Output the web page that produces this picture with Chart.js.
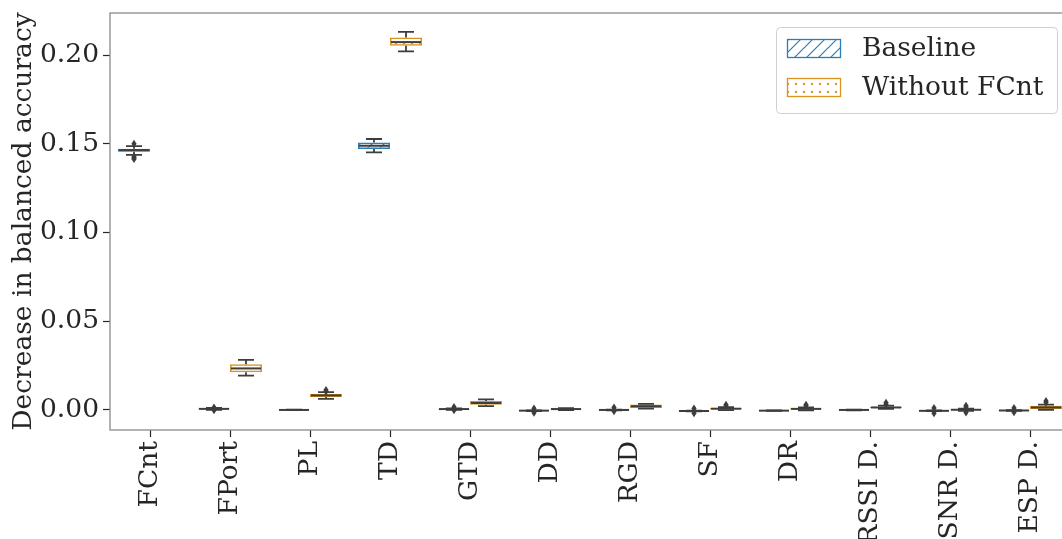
<!DOCTYPE html>
<html>
<head>
<meta charset="utf-8">
<script src="https://cdn.jsdelivr.net/npm/chart.js@4/dist/chart.umd.min.js"></script>
<style>
  html, body { margin: 0; padding: 0; background: #fff; overflow: hidden; }
  #wrap { width: 1062px; height: 539px; overflow: hidden; }
  canvas { display: block; }
</style>
</head>
<body>
<div id="wrap"><canvas id="c" width="1072" height="539"></canvas></div>
<script>
// Feature names on the x axis
const categories = ['FCnt', 'FPort', 'PL', 'TD', 'GTD', 'DD', 'RGD', 'SF', 'DR', 'RSSI D.', 'SNR D.', 'ESP D.'];
const seriesNames = ['Baseline', 'Without FCnt'];
const yTicks = [0.00, 0.05, 0.10, 0.15, 0.20];

// Baseline: quartiles, whiskers and outliers per feature
const baseQ1  = [0.1455, 0.0004, 0.0000, 0.1471, 0.0003, -0.0005, -0.0001, -0.0007, -0.0005, -0.0001, -0.0006, -0.0004];
const baseMed = [0.1464, 0.0006, 0.0000, 0.1489, 0.0005, -0.0004,  0.0000, -0.0006, -0.0004,  0.0000, -0.0005, -0.0003];
const baseQ3  = [0.1472, 0.0008, 0.0001, 0.1507, 0.0007, -0.0003,  0.0001, -0.0005, -0.0003,  0.0001, -0.0004, -0.0002];
const baseLo  = [0.1437, 0.0001, 0.0000, 0.1452, 0.0001, -0.0006, -0.0002, -0.0008, -0.0005, -0.0002, -0.0007, -0.0005];
const baseHi  = [0.1487, 0.0011, 0.0001, 0.1527, 0.0009, -0.0002,  0.0002, -0.0004, -0.0003,  0.0002, -0.0003, -0.0001];
const baseOut = [[0.1500, 0.1427, 0.1420, 0.1414], [0.0014, -0.0001], [], [], [0.0016, -0.0001],
                 [0.0008, -0.0016], [0.0014, -0.0008], [0.0008, -0.0018], [], [], [0.0011, -0.0018], [0.0011, -0.0013]];

// Without FCnt: no values for FCnt itself
const woQ1  = [null, 0.0212, 0.0073, 0.2052, 0.0029,  0.0002, 0.0011,  0.0003,  0.0002, 0.0010, -0.0002, 0.0005];
const woMed = [null, 0.0234, 0.0082, 0.2073, 0.0039,  0.0005, 0.0021,  0.0007,  0.0006, 0.0014,  0.0001, 0.0014];
const woQ3  = [null, 0.0258, 0.0090, 0.2099, 0.0050,  0.0008, 0.0031,  0.0011,  0.0010, 0.0018,  0.0004, 0.0024];
const woLo  = [null, 0.0193, 0.0062, 0.2021, 0.0021, -0.0001, 0.0008, -0.0001, -0.0002, 0.0006, -0.0005, 0.0000];
const woHi  = [null, 0.0282, 0.0100, 0.2131, 0.0060,  0.0010, 0.0034,  0.0016,  0.0014, 0.0024,  0.0007, 0.0030];
const woOut = [[], [], [0.0112, 0.0104], [], [], [], [], [0.0030, 0.0022], [0.0030, 0.0024],
               [0.0040, 0.0032], [0.0023, 0.0016, -0.0015], [0.0050, 0.0042]];

const BLUE = '#2a7db5';
const ORANGE = '#d9921f';
const INK = '#3d3d3d';
const TEXT = '#262626';
const FONT = '"DejaVu Serif", serif';
const FSIZE = 26.5;

// Hatch fills: diagonal lines and dots
function makeLines(color) {
  const n = 12;
  const p = document.createElement('canvas');
  p.width = n; p.height = n;
  const g = p.getContext('2d');
  g.strokeStyle = color; g.lineWidth = 1.2;
  g.beginPath();
  g.moveTo(-1, n + 1); g.lineTo(n + 1, -1);
  g.moveTo(-1, 1); g.lineTo(1, -1);
  g.moveTo(n - 1, n + 1); g.lineTo(n + 1, n - 1);
  g.stroke();
  return g.createPattern(p, 'repeat');
}
function makeDots(color) {
  const p = document.createElement('canvas');
  p.width = 8; p.height = 8;
  const g = p.getContext('2d');
  g.fillStyle = color;
  g.beginPath(); g.arc(4, 4, 1.15, 0, Math.PI * 2); g.fill();
  return g.createPattern(p, 'repeat');
}
const fills = [makeLines(BLUE), makeDots(ORANGE)];
const edges = [BLUE, ORANGE];

const stats = [
  { q1: baseQ1, med: baseMed, q3: baseQ3, lo: baseLo, hi: baseHi, out: baseOut },
  { q1: woQ1, med: woMed, q3: woQ3, lo: woLo, hi: woHi, out: woOut }
];

function boxData(s) {
  return s.q1.map((v, i) => (v === null ? null : [v, s.q3[i]]));
}

// Whiskers, medians and outliers drawn on top of the box bars
const boxPlugin = {
  id: 'boxParts',
  afterDatasetsDraw(chart) {
    const ctx = chart.ctx;
    const y = chart.scales.y;
    ctx.save();
    ctx.beginPath();
    ctx.rect(chart.chartArea.left, chart.chartArea.top,
             chart.chartArea.right - chart.chartArea.left, chart.chartArea.bottom - chart.chartArea.top);
    ctx.clip();
    stats.forEach((s, d) => {
      const meta = chart.getDatasetMeta(d);
      meta.data.forEach((el, i) => {
        if (s.q1[i] === null) return;
        const x = el.x, w = el.width;
        ctx.strokeStyle = INK;
        ctx.lineWidth = 1.8;
        ctx.lineCap = 'butt';
        const yq1 = y.getPixelForValue(s.q1[i]);
        const yq3 = y.getPixelForValue(s.q3[i]);
        const ylo = y.getPixelForValue(s.lo[i]);
        const yhi = y.getPixelForValue(s.hi[i]);
        const ym = y.getPixelForValue(s.med[i]);
        ctx.beginPath();
        ctx.moveTo(x, yq3); ctx.lineTo(x, yhi);
        ctx.moveTo(x - w / 4, yhi); ctx.lineTo(x + w / 4, yhi);
        ctx.moveTo(x, yq1); ctx.lineTo(x, ylo);
        ctx.moveTo(x - w / 4, ylo); ctx.lineTo(x + w / 4, ylo);
        ctx.stroke();
        ctx.lineWidth = 2;
        ctx.beginPath();
        ctx.moveTo(x - w / 2 + 1, ym); ctx.lineTo(x + w / 2 - 1, ym);
        ctx.stroke();
        ctx.fillStyle = INK;
        s.out[i].forEach(v => {
          const py = y.getPixelForValue(v);
          ctx.beginPath();
          ctx.moveTo(x, py - 4); ctx.lineTo(x + 2.6, py);
          ctx.lineTo(x, py + 4); ctx.lineTo(x - 2.6, py);
          ctx.closePath(); ctx.fill();
        });
      });
    });
    ctx.restore();
  },
  afterDraw(chart) {
    const ctx = chart.ctx;
    const a = chart.chartArea;
    ctx.save();
    // Axes frame
    ctx.strokeStyle = '#8a8a8a';
    ctx.lineWidth = 1.3;
    ctx.strokeRect(a.left, a.top, a.right - a.left, a.bottom - a.top);
    // Legend
    const lx = 776, ly = 27, lw = 281, lh = 86;
    ctx.fillStyle = 'rgba(255,255,255,0.85)';
    ctx.strokeStyle = '#d0d0d0';
    ctx.lineWidth = 1;
    ctx.beginPath();
    ctx.roundRect(lx + 0.5, ly + 0.5, lw, lh, 4);
    ctx.fill(); ctx.stroke();
    ctx.font = FSIZE + 'px ' + FONT;
    ctx.textBaseline = 'middle';
    ctx.textAlign = 'left';
    seriesNames.forEach((name, k) => {
      const ry = 39 + k * 39;
      ctx.fillStyle = '#fff';
      ctx.fillRect(787, ry, 54, 19);
      ctx.fillStyle = fills[k];
      ctx.fillRect(787, ry, 54, 19);
      ctx.strokeStyle = edges[k];
      ctx.lineWidth = 1.3;
      ctx.strokeRect(787.5, ry + 0.5, 53, 18);
      ctx.fillStyle = TEXT;
      ctx.fillText(name, 862, ry + 10);
    });
    ctx.restore();
  }
};

new Chart(document.getElementById('c'), {
  type: 'bar',
  data: {
    labels: categories,
    datasets: stats.map((s, d) => ({
      label: seriesNames[d],
      data: boxData(s),
      backgroundColor: fills[d],
      borderColor: edges[d],
      borderWidth: 1.5,
      borderSkipped: false,
      categoryPercentage: 0.8,
      barPercentage: 1.0
    }))
  },
  options: {
    responsive: false,
    animation: false,
    devicePixelRatio: 1,
    layout: { padding: { left: 0, right: 2, top: 13, bottom: 0 } },
    plugins: { legend: { display: false }, tooltip: { enabled: false } },
    scales: {
      x: {
        offset: true,
        grid: { display: true, offset: false, drawOnChartArea: false, drawTicks: true, tickLength: 7, tickColor: TEXT, tickWidth: 1.2 },
        border: { display: false },
        ticks: {
          autoSkip: false, minRotation: 90, maxRotation: 90, padding: 4,
          color: TEXT, font: { family: FONT, size: FSIZE }
        },
        afterFit(scale) { scale.height = 109; scale.paddingLeft = 0; scale.paddingRight = 0; }
      },
      y: {
        min: -0.0113,
        max: 0.2237,
        grid: { display: true, drawOnChartArea: false, drawTicks: true, tickLength: 7, tickColor: TEXT, tickWidth: 1.2 },
        border: { display: false },
        ticks: {
          padding: 4, color: TEXT, font: { family: FONT, size: FSIZE },
          callback: v => v.toFixed(2)
        },
        afterBuildTicks(scale) { scale.ticks = yTicks.map(v => ({ value: v })); },
        afterFit(scale) { scale.width = 110; scale.paddingTop = 0; scale.paddingBottom = 0; },
        title: {
          display: true, text: 'Decrease in balanced accuracy', color: TEXT,
          font: { family: FONT, size: FSIZE, lineHeight: 1.2 }, padding: { top: 8, bottom: 0 }
        }
      }
    }
  },
  plugins: [boxPlugin]
});
</script>
</body>
</html>
